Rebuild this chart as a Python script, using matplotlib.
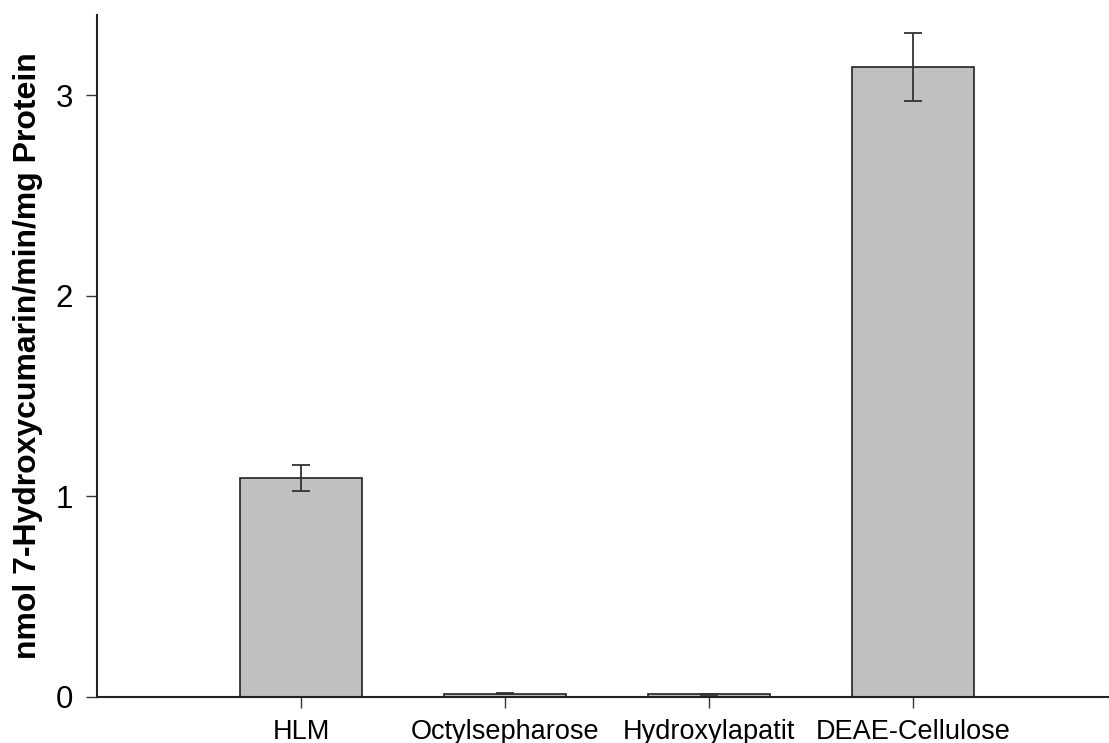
import numpy as np
import matplotlib
matplotlib.use("Agg")
import matplotlib.pyplot as plt

# Data
categories = ["HLM", "Octylsepharose", "Hydroxylapatit", "DEAE-Cellulose"]
activity = [1.09, 0.016, 0.013, 3.14]
activity_err = [0.065, 0.003, 0.002, 0.17]

plt.rcParams["font.family"] = ["Liberation Sans", "DejaVu Sans"]

fig = plt.figure(figsize=(11.09, 7.43), dpi=100)
ax = fig.add_axes([97 / 1109, 46 / 743, 1012 / 1109, 682 / 743])

x = np.arange(len(categories))
ax.bar(x, activity, width=0.6, color="#c0c0c0", edgecolor="#222222", linewidth=1.2, zorder=2)
ax.errorbar(x, activity, yerr=activity_err, fmt="none", ecolor="#333333",
            elinewidth=1.3, capsize=6.5, capthick=1.3, zorder=3)

ax.set_xlim(-1, 3.96)
ax.set_ylim(0, 3.40)
ax.set_xticks(x)
ax.set_xticklabels(categories, fontsize=19.5)
ax.set_yticks([0, 1, 2, 3])
ax.set_yticklabels(["0", "1", "2", "3"], fontsize=22.5)
ax.tick_params(axis="both", direction="out", length=8, width=1, color="#333333")
ax.tick_params(axis="y", pad=9.5)
ax.tick_params(axis="x", pad=8)

ax.spines["top"].set_visible(False)
ax.spines["right"].set_visible(False)
for s in ["left", "bottom"]:
    ax.spines[s].set_linewidth(1.5)
    ax.spines[s].set_color("#222222")

ax.set_ylabel("nmol 7-Hydroxycumarin/min/mg Protein", fontsize=23, fontweight="bold")
ax.yaxis.set_label_coords(-54 / 1012, 0.5)

fig.savefig("out.png", dpi=100)
